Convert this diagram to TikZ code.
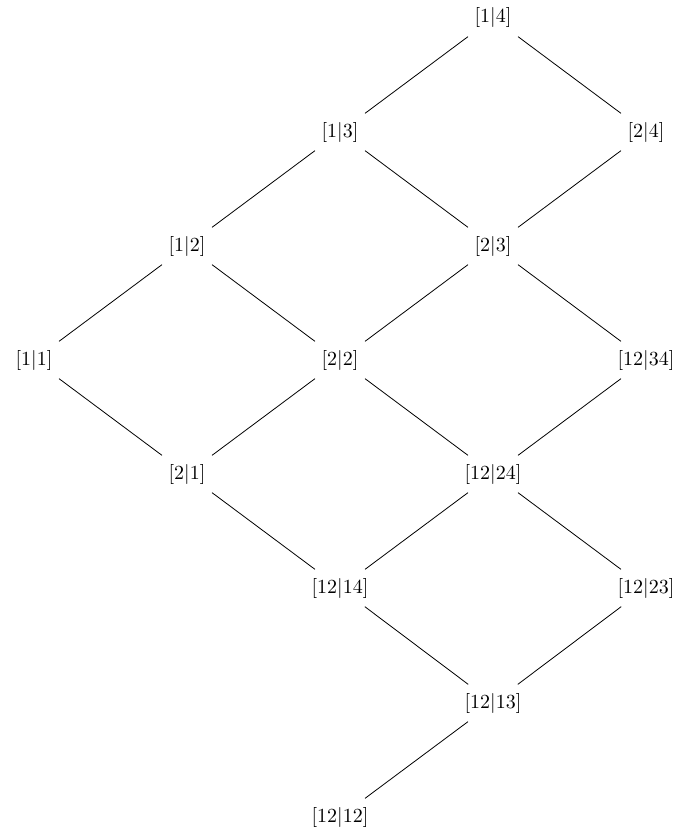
\documentclass[tikz,border=0pt]{standalone}
\begin{document}
\begin{tikzpicture}[x=0.5pt,y=-0.5pt, lbl/.style={inner sep=0.333em, outer sep=1pt}, edge/.style={draw=black, line width=0.4pt}]
\useasboundingbox (0,0) rectangle (683,840);
\node[lbl] (a14) at (493,18) {[1$|$4]};
\node[lbl] (a13) at (340,132) {[1$|$3]};
\node[lbl] (a24) at (646,132) {[2$|$4]};
\node[lbl] (a12) at (187,246) {[1$|$2]};
\node[lbl] (a23) at (493,246) {[2$|$3]};
\node[lbl] (a11) at (34,360) {[1$|$1]};
\node[lbl] (a22) at (340,360) {[2$|$2]};
\node[lbl] (b1234) at (646,360) {[12$|$34]};
\node[lbl] (a21) at (187,474) {[2$|$1]};
\node[lbl] (b1224) at (493,474) {[12$|$24]};
\node[lbl] (b1214) at (340,588) {[12$|$14]};
\node[lbl] (b1223) at (646,588) {[12$|$23]};
\node[lbl] (b1213) at (493,703) {[12$|$13]};
\node[lbl] (b1212) at (340,817) {[12$|$12]};
\path[edge] (a14) -- (a13);
\path[edge] (a14) -- (a24);
\path[edge] (a13) -- (a12);
\path[edge] (a13) -- (a23);
\path[edge] (a24) -- (a23);
\path[edge] (a12) -- (a11);
\path[edge] (a12) -- (a22);
\path[edge] (a23) -- (a22);
\path[edge] (a23) -- (b1234);
\path[edge] (a11) -- (a21);
\path[edge] (a22) -- (a21);
\path[edge] (a22) -- (b1224);
\path[edge] (b1234) -- (b1224);
\path[edge] (a21) -- (b1214);
\path[edge] (b1224) -- (b1214);
\path[edge] (b1224) -- (b1223);
\path[edge] (b1214) -- (b1213);
\path[edge] (b1223) -- (b1213);
\path[edge] (b1213) -- (b1212);
\end{tikzpicture}
\end{document}
